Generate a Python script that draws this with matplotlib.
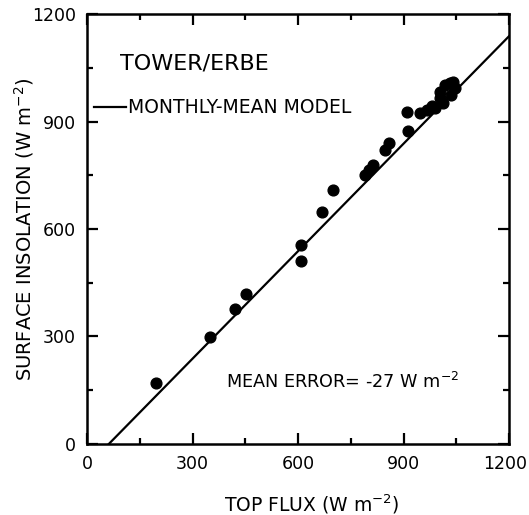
import numpy as np
import matplotlib
matplotlib.use("Agg")
from matplotlib import pyplot as plt
from matplotlib.ticker import MultipleLocator, FuncFormatter

# monthly means, tower surface insolation vs ERBE top-of-atmosphere flux
top_flux = [197, 351, 421, 452, 609, 609, 667, 700, 790, 803, 813, 848, 860,
            909, 914, 947, 966, 980, 990, 1004, 1004, 1013, 1018, 1032, 1036,
            1041, 1046]
surface = [170, 299, 376, 419, 555, 511, 647, 708, 751, 765, 779, 821, 839,
           927, 874, 925, 932, 943, 937, 965, 983, 951, 1002, 1007, 974,
           1011, 993]

# monthly-mean model line
model_x = [62, 1200]
model_y = [0, 1138]

xmax = 1200

plt.rcParams['font.family'] = 'DejaVu Sans'
plt.rcParams['mathtext.default'] = 'regular'

fig = plt.figure(figsize=(5.29, 5.15), dpi=100)
ax = fig.add_axes([0.1645, 0.1379, 0.7977, 0.8349])

ax.plot(model_x, model_y, color='black', lw=1.6)
ax.scatter(top_flux, surface, s=60, color='black', zorder=3)

ax.set_xlim(0, xmax)
ax.set_ylim(0, 1200)
ax.xaxis.set_major_locator(MultipleLocator(300))
ax.xaxis.set_minor_locator(MultipleLocator(150))
ax.yaxis.set_major_locator(MultipleLocator(300))
ax.yaxis.set_minor_locator(MultipleLocator(150))
ax.tick_params(which='both', direction='in', top=True, right=True,
               width=1.6, labelsize=12.5, pad=8)
ax.tick_params(which='major', length=8)
ax.tick_params(which='minor', length=4)
for s in ax.spines.values():
    s.set_linewidth(1.8)

# last x label is drawn separately, pulled in a little so it fits
ax.xaxis.set_major_formatter(FuncFormatter(lambda v, p: '' if v >= xmax else '%d' % v))
ax.annotate('%d' % xmax, xy=(xmax, 0), xycoords=('data', 'axes fraction'),
            xytext=(-3, -8), textcoords='offset points',
            ha='center', va='top', fontsize=12.5)

ax.set_xlabel('TOP FLUX (W m$^{-2}$)', fontsize=13.5)
ax.set_ylabel('SURFACE INSOLATION (W m$^{-2}$)', fontsize=14)
ax.xaxis.set_label_coords(0.532, -0.112)
ax.yaxis.set_label_coords(-0.122, 0.5)

ax.text(93, 1063, 'TOWER/ERBE', fontsize=16, va='center', ha='left')
ax.plot([20, 110], [940, 940], color='black', lw=1.6, clip_on=False)
ax.text(116, 940, 'MONTHLY-MEAN MODEL', fontsize=13.5, va='center', ha='left')
ax.text(396, 173, 'MEAN ERROR= -27 W m$^{-2}$', fontsize=12.7,
        va='center', ha='left')

fig.savefig('out.png', dpi=100)
